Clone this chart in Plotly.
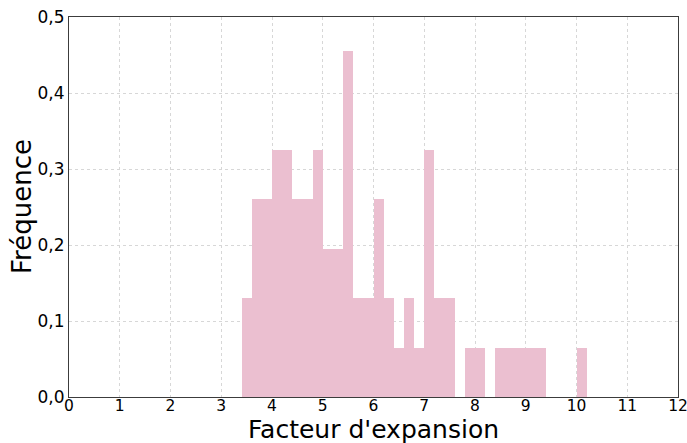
import plotly.graph_objects as go

bin_left = [3.4, 3.6, 3.8, 4.0, 4.2, 4.4, 4.6, 4.8, 5.0, 5.2, 5.4, 5.6, 5.8,
            6.0, 6.2, 6.4, 6.6, 6.8, 7.0, 7.2, 7.4, 7.6, 7.8, 8.0, 8.2, 8.4,
            8.6, 8.8, 9.0, 9.2, 9.4, 9.6, 9.8, 10.0]
frequence = [0.13, 0.26, 0.26, 0.325, 0.325, 0.26, 0.26, 0.325, 0.195, 0.195,
             0.455, 0.13, 0.13, 0.26, 0.13, 0.065, 0.13, 0.065, 0.325, 0.13,
             0.13, 0.0, 0.065, 0.065, 0.0, 0.065, 0.065, 0.065, 0.065, 0.065,
             0.0, 0.0, 0.0, 0.065]
bin_width = 0.2

x_ticks = list(range(0, 13))
y_ticks = [0.0, 0.1, 0.2, 0.3, 0.4, 0.5]
y_ticktext = ["0,0", "0,1", "0,2", "0,3", "0,4", "0,5"]
x_title = "Facteur d'expansion"
y_title = "Fréquence"

fig = go.Figure()
fig.add_trace(go.Bar(
    x=bin_left, y=frequence, width=bin_width, offset=0,
    marker=dict(color="rgb(235,191,208)", line=dict(width=0)),
    hoverinfo="skip",
))

font = "DejaVu Sans, Liberation Sans, sans-serif"
fig.update_layout(
    width=687, height=443,
    margin=dict(l=69, r=9, t=17, b=46),
    paper_bgcolor="white", plot_bgcolor="white",
    showlegend=False, bargap=0,
    font=dict(family=font, color="black"),
)
fig.update_xaxes(
    range=[0, 12], tickmode="array", tickvals=x_ticks,
    ticktext=[str(v) for v in x_ticks],
    tickfont=dict(size=15.5), ticks="", ticklen=0, automargin=False,
    ticklabeloverflow="allow", ticklabelstandoff=-6,
    showgrid=True, gridcolor="rgb(215,215,215)", griddash="dot", gridwidth=1,
    showline=True, linecolor="rgb(60,60,60)", linewidth=1, mirror=True,
    zeroline=False,
)
fig.update_yaxes(
    range=[0, 0.5], tickmode="array", tickvals=y_ticks, ticktext=y_ticktext,
    tickfont=dict(size=17), ticks="", ticklen=0, automargin=False,
    ticklabeloverflow="allow",
    showgrid=True, gridcolor="rgb(215,215,215)", griddash="dot", gridwidth=1,
    showline=True, linecolor="rgb(60,60,60)", linewidth=1, mirror=True,
    zeroline=False,
)
fig.add_annotation(
    text=x_title, xref="paper", yref="paper", x=0.5, y=0,
    xanchor="center", yanchor="top", yshift=-16, showarrow=False,
    font=dict(size=25),
)
fig.add_annotation(
    text=y_title, xref="paper", yref="paper", x=0, y=0.5, textangle=-90,
    xanchor="right", yanchor="middle", xshift=-30, showarrow=False,
    font=dict(size=26),
)

fig.write_html("out.html")
